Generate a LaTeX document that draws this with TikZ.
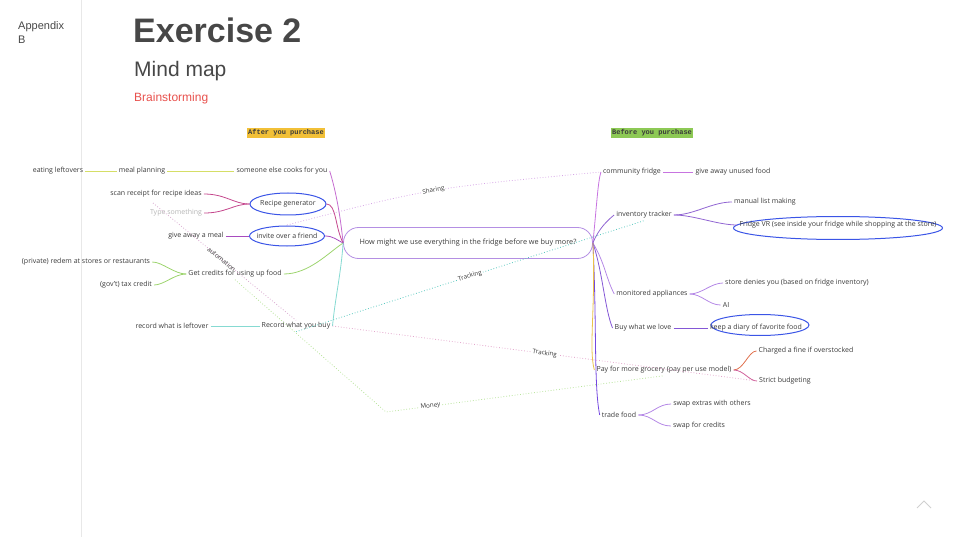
\documentclass[tikz,border=0pt]{standalone}
\usepackage{fontspec}
\setmainfont{Open Sans}
\newfontfamily\headfont{Liberation Sans}
\newfontfamily\labelmono{Liberation Mono}
\usetikzlibrary{shapes.geometric}
\definecolor{txtgray}{HTML}{3A3A3A}
\definecolor{titlegray}{HTML}{474747}
\definecolor{brainred}{HTML}{E8514D}
\definecolor{rulegray}{HTML}{E8E8E8}
\definecolor{afteryellow}{HTML}{F2C037}
\definecolor{beforegreen}{HTML}{8DC955}
\definecolor{ovalblue}{HTML}{3B55E6}
\definecolor{qpurple}{HTML}{B48FE3}
\definecolor{mealcol}{HTML}{D5DE66}
\definecolor{cookcol}{HTML}{C56BD0}
\definecolor{recipecol}{HTML}{C4468C}
\definecolor{invitecol}{HTML}{A84BBF}
\definecolor{creditcol}{HTML}{9DD46E}
\definecolor{recordcol}{HTML}{86DAD2}
\definecolor{commcol}{HTML}{C774E0}
\definecolor{trackcol}{HTML}{9064D2}
\definecolor{moncol}{HTML}{B589E6}
\definecolor{lovecol}{HTML}{8457D6}
\definecolor{paycol}{HTML}{E9C24A}
\definecolor{finecol}{HTML}{E0724F}
\definecolor{strictcol}{HTML}{D0609A}
\definecolor{tradecol}{HTML}{7448E0}
\definecolor{sharecol}{HTML}{D6A6E6}
\definecolor{teallink}{HTML}{5CC9C0}
\definecolor{pinklink}{HTML}{E3A6CC}
\definecolor{autocol}{HTML}{D9A8CF}
\definecolor{moneycol}{HTML}{B7E39A}
\definecolor{typegray}{HTML}{B5B5B5}
\definecolor{chevgray}{HTML}{D0D0D0}
\begin{document}
\begin{tikzpicture}[x=1pt,y=-1pt,
  txt/.style={font=\fontsize{7}{8}\selectfont,text=txtgray,inner sep=2pt},
  branch/.style={line width=0.8pt},
  oval/.style={draw=ovalblue,line width=1pt,ellipse,inner sep=0pt},
  xlink/.style={dotted,line width=0.8pt},
  linklabel/.style={font=\fontsize{6.3}{7}\selectfont,text=txtgray,sloped,fill=white,inner sep=1pt},
  tag/.style={font=\labelmono\bfseries\fontsize{7}{8}\selectfont,text=txtgray,inner xsep=1pt,inner ysep=1.5pt}]
\useasboundingbox (0,0) rectangle (960,537);
\draw[rulegray,line width=0.8pt] (81,0)--(81,537);
\node[anchor=base west,font=\headfont\fontsize{11}{14}\selectfont,text=titlegray,inner sep=0pt] (app) at (18,30) {Appendix};
\node[anchor=base west,font=\headfont\fontsize{11}{14}\selectfont,text=titlegray,inner sep=0pt] (appb) at (18,44) {B};
\node[anchor=base west,font=\headfont\bfseries\fontsize{34}{36}\selectfont,text=titlegray,inner sep=0pt] (title) at (133,43) {Exercise 2};
\node[anchor=base west,font=\headfont\fontsize{21}{24}\selectfont,text=titlegray,inner sep=0pt] (sub) at (134,77) {Mind map};
\node[anchor=base west,font=\headfont\fontsize{12}{14}\selectfont,text=brainred,inner sep=0pt] (brain) at (134,102) {Brainstorming};
\node[tag,fill=afteryellow] (after) at (286,133) {After you purchase};
\node[tag,fill=beforegreen] (before) at (652,133) {Before you purchase};
\node[draw=qpurple,line width=0.8pt,rounded corners=15pt,minimum width=249,minimum height=31,txt,font=\fontsize{7.3}{8}\selectfont] (q) at (468,243) {How might we use everything in the fridge before we buy more?};
% after you purchase
\node[txt] (eat) at (58,171) {eating leftovers};
\node[txt] (meal) at (142,171) {meal planning};
\node[txt] (cook) at (282,171) {someone else cooks for you};
\node[txt] (scan) at (156,194) {scan receipt for recipe ideas};
\node[txt,text=typegray] (type) at (176,213) {Type something};
\node[oval,minimum width=76,minimum height=22] (rg) at (288,204) {};
\node[txt] (rgt) at (rg) {Recipe generator};
\node[txt] (give) at (196,236) {give away a meal};
\node[oval,minimum width=75,minimum height=20] (inv) at (287,236) {};
\node[txt] (invt) at (inv) {invite over a friend};
\node[txt] (priv) at (86,262) {(private) redem at stores or restaurants};
\node[txt] (gov) at (126,285) {(gov't) tax credit};
\node[txt] (cred) at (235,274) {Get credits for using up food};
\node[txt] (left) at (172,326) {record what is leftover};
\node[txt] (rec) at (296,326) {Record what you buy};
% before you purchase
\node[txt] (comm) at (632,172) {community fridge};
\node[txt] (unused) at (733,172) {give away unused food};
\node[txt] (track) at (644,215) {inventory tracker};
\node[txt] (manual) at (765,202) {manual list making};
\node[oval,minimum width=209,minimum height=23] (fvr) at (838,228) {};
\node[txt] (fvrt) at (838,225) {Fridge VR (see inside your fridge while shopping at the store)};
\node[txt] (mon) at (652,294) {monitored appliances};
\node[txt] (deny) at (797,283) {store denies you (based on fridge inventory)};
\node[txt] (ai) at (726,305) {AI};
\node[txt] (love) at (643,328) {Buy what we love};
\node[oval,minimum width=98,minimum height=21] (diary) at (760,325) {};
\node[txt] (diaryt) at (756,328) {keep a diary of favorite food};
\node[txt] (pay) at (664,370) {Pay for more grocery (pay per use model)};
\node[txt] (fine) at (806,351) {Charged a fine if overstocked};
\node[txt] (strict) at (785,381) {Strict budgeting};
\node[txt] (trade) at (619,415) {trade food};
\node[txt] (swapx) at (712,404) {swap extras with others};
\node[txt] (swapc) at (699,426) {swap for credits};
% branches
\draw[branch,mealcol] (eat)--(meal);
\draw[branch,mealcol] (meal)--(cook);
\draw[branch,cookcol] (cook.east) .. controls +(3,10) and +(-4,-40) .. (q.west);
\draw[branch,recipecol] (scan.east) .. controls +(22,0) and +(-16,0) .. (rg.west);
\draw[branch,recipecol] (type.east) .. controls +(22,0) and +(-16,0) .. (rg.west);
\draw[branch,recipecol] (rg.east) .. controls +(10,0) and +(-8,-15) .. (q.west);
\draw[branch,invitecol] (give)--(inv);
\draw[branch,invitecol] (inv.east) .. controls +(8,0) and +(-6,-3) .. (q.west);
\draw[branch,creditcol] (cred.west) .. controls +(-12,0) and +(10,0) .. (priv.east);
\draw[branch,creditcol] (cred.west) .. controls +(-12,0) and +(10,0) .. (gov.east);
\draw[branch,creditcol] (cred.east) .. controls +(25,0) and +(-15,10) .. (q.west);
\draw[branch,recordcol] (left)--(rec);
\draw[branch,recordcol] (rec.east) .. controls +(3,-30) and +(-2,30) .. (q.west);
\draw[branch,commcol] (q.east) .. controls +(4,-40) and +(-3,10) .. (comm.west);
\draw[branch,commcol] (comm)--(unused);
\draw[branch,trackcol] (q.east) .. controls +(6,-15) and +(-6,5) .. (track.west);
\draw[branch,trackcol] (track.east) .. controls +(20,0) and +(-20,0) .. (manual.west);
\draw[branch,trackcol] (track.east) .. controls +(20,0) and +(-20,0) .. (fvrt.west);
\draw[branch,moncol] (q.east) .. controls +(12,20) and +(-8,-15) .. (mon.west);
\draw[branch,moncol] (mon.east) .. controls +(12,0) and +(-12,0) .. (deny.west);
\draw[branch,moncol] (mon.east) .. controls +(12,0) and +(-12,0) .. (ai.west);
\draw[branch,lovecol] (q.east) .. controls +(10,30) and +(-8,-20) .. (love.west);
\draw[branch,lovecol] (love)--(diaryt);
\draw[branch,tradecol] (q.east) .. controls +(4,80) and +(-6,-30) .. (trade.west);
\draw[branch,paycol] (q.east) .. controls +(3,60) and +(-6,-20) .. (pay.west);
\draw[branch,finecol] (pay.east) .. controls +(10,0) and +(-8,0) .. (fine.west);
\draw[branch,strictcol] (pay.east) .. controls +(10,0) and +(-8,0) .. (strict.west);
\draw[branch,moncol] (trade.east) .. controls +(14,0) and +(-14,0) .. (swapx.west);
\draw[branch,moncol] (trade.east) .. controls +(14,0) and +(-14,0) .. (swapc.west);
% cross links
\coordinate (shareA) at (287,225);
\coordinate (autoA) at (153,203);
\coordinate (moneyB) at (386,412);
\draw[xlink,sharecol] (shareA) .. controls (430,188) .. node[linklabel] {Sharing} (comm.west);
\draw[xlink,teallink] (rec.south) -- node[linklabel] {Tracking} (track.south);
\draw[xlink,pinklink] (rec.east) -- node[linklabel] {Tracking} (strict.west);
\draw[xlink,autocol] (autoA) -- node[linklabel,fill=none,pos=0.48] {automation} (rec.north);
\draw[xlink,moneycol] (cred.south) -- (moneyB) -- node[linklabel,pos=0.16] {Money} (pay.south);
\draw[chevgray,line width=0.8pt] (917,508)--(924,501)--(931,508);
\end{tikzpicture}
\end{document}
